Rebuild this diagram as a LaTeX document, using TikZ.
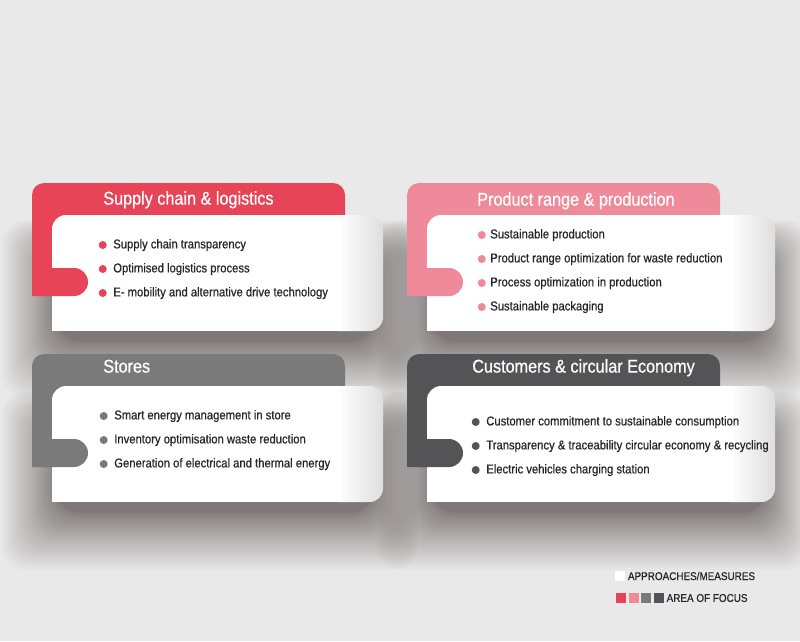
\documentclass[tikz,border=0pt]{standalone}
\usepackage{fontspec}
\setmainfont{Liberation Sans}[FakeStretch=0.88,FakeBold=0.6]
\usetikzlibrary{positioning,calc}
\definecolor{pagegrey}{RGB}{233,233,233}
\definecolor{shadowcol}{RGB}{62,48,48}
\definecolor{cardedge}{RGB}{222,222,222}
\definecolor{focusred}{RGB}{232,68,88}
\definecolor{focuspink}{RGB}{238,138,153}
\definecolor{focusgrey}{RGB}{122,122,122}
\definecolor{focusdark}{RGB}{84,84,86}
\definecolor{itemtext}{RGB}{38,38,40}
% soft shadow under one card: #1,#2 tab corner, #3 card right edge
\newcommand{\cardshadow}[3]{%
  \foreach \i in {1,...,40}{
    \pgfmathsetmacro{\f}{pow(\i/40,1.6)}
    \fill[shadowcol,opacity=0.021,rounded corners=0.6cm]
      ({#1+25-55*\f},{#2+72-35*\f}) rectangle ({#3-10+45*\f},{#2+158+58*\f});
  }
}
% tab, card and pill of one area of focus: #1,#2 tab corner, #3 card right edge, #4 colour
\newcommand{\focuscard}[4]{%
  \fill[#4,rounded corners=0.3cm] (#1,#2) rectangle ({#1+313},{#2+113});
  \fill[#4] (#1,{#2+90}) rectangle ({#1+30},{#2+113});
  \begin{scope}
    \clip[rounded corners=0.35cm] ({#1+20},{#2+32}) rectangle (#3,{#2+148});
    \fill[white] ({#1+20},{#2+32}) rectangle (#3,{#2+148});
    \shade[left color=white,right color=cardedge] ({#3-45},{#2+32}) rectangle (#3,{#2+148});
  \end{scope}
  \fill[white] ({#1+20},{#2+120}) rectangle ({#1+40},{#2+148});
  \fill[#4] (#1,{#2+85}) -- ({#1+42},{#2+85}) arc[start angle=-90,end angle=90,radius=14]
    -- (#1,{#2+113}) -- cycle;
}
\tikzset{
  cardtitle/.style={anchor=west,text=white,inner sep=0pt,text height=9pt,text depth=2.5pt,font=\fontsize{13.1}{15}\selectfont},
  item/.style={anchor=west,text=itemtext,inner sep=0pt,text height=6.6pt,text depth=1.8pt,font=\fontsize{9.1}{11}\selectfont},
  dot/.style={circle,inner sep=0pt,minimum size=0.2cm,fill=#1},
  legendbox/.style={rectangle,inner sep=0pt,minimum size=0.25cm,fill=#1},
  legendtext/.style={anchor=west,text=itemtext,inner sep=0pt,font=\fontsize{8}{10}\selectfont}
}

\begin{document}
\begin{tikzpicture}[x=0.025cm,y=-0.025cm]
  \fill[pagegrey] (0,0) rectangle (800,641);
  \useasboundingbox (0,0) rectangle (800,641);

  \cardshadow{32}{183}{383}
  \cardshadow{407}{183}{775}
  \cardshadow{32}{354}{383}
  \cardshadow{407}{354}{775}

  \focuscard{32}{183}{383}{focusred}
  \focuscard{407}{183}{775}{focuspink}
  \focuscard{32}{354}{383}{focusgrey}
  \focuscard{407}{354}{775}{focusdark}

  % supply chain
  \node[cardtitle] (supply) at (103,200) {Supply chain \& logistics};
  \node[item] (s1) at (113,245) {Supply chain transparency};
  \node[item] (s2) at (113,269) {Optimised logistics process};
  \node[item] (s3) at (113,293) {E- mobility and alternative drive technology};
  \node[dot=focusred,left=0.15cm of s1] (s1dot) {};
  \node[dot=focusred,left=0.15cm of s2] (s2dot) {};
  \node[dot=focusred,left=0.15cm of s3] (s3dot) {};

  % product range
  \node[cardtitle] (product) at (477,201) {Product range \& production};
  \node[item] (p1) at (490,235) {Sustainable production};
  \node[item] (p2) at (490,259) {Product range optimization for waste reduction};
  \node[item] (p3) at (490,283) {Process optimization in production};
  \node[item] (p4) at (490,307) {Sustainable packaging};
  \node[dot=focuspink,left=0.1cm of p1] (p1dot) {};
  \node[dot=focuspink,left=0.1cm of p2] (p2dot) {};
  \node[dot=focuspink,left=0.1cm of p3] (p3dot) {};
  \node[dot=focuspink,left=0.1cm of p4] (p4dot) {};

  % stores
  \node[cardtitle] (stores) at (103,368) {Stores};
  \node[item] (t1) at (114,416) {Smart energy management in store};
  \node[item] (t2) at (114,440) {Inventory optimisation waste reduction};
  \node[item] (t3) at (114,464) {Generation of electrical and thermal energy};
  \node[dot=focusgrey,left=0.15cm of t1] (t1dot) {};
  \node[dot=focusgrey,left=0.15cm of t2] (t2dot) {};
  \node[dot=focusgrey,left=0.15cm of t3] (t3dot) {};

  % customers
  \node[cardtitle] (customers) at (472,368) {Customers \& circular Economy};
  \node[item] (c1) at (486,422) {Customer commitment to sustainable consumption};
  \node[item] (c2) at (486,446) {Transparency \& traceability circular economy \& recycling};
  \node[item] (c3) at (486,470) {Electric vehicles charging station};
  \node[dot=focusdark,left=0.15cm of c1] (c1dot) {};
  \node[dot=focusdark,left=0.15cm of c2] (c2dot) {};
  \node[dot=focusdark,left=0.15cm of c3] (c3dot) {};

  % legend
  \node[legendbox=white] (lwhite) at (620,576) {};
  \node[legendtext,right=0.06cm of lwhite] (lapproach) {APPROACHES/MEASURES};
  \node[legendbox=focusred] (lred) at (621,598) {};
  \node[legendbox=focuspink,right=0.05cm of lred] (lpink) {};
  \node[legendbox=focusgrey,right=0.05cm of lpink] (lgrey) {};
  \node[legendbox=focusdark,right=0.05cm of lgrey] (ldark) {};
  \node[legendtext,right=0.06cm of ldark] (lfocus) {AREA OF FOCUS};
\end{tikzpicture}
\end{document}
